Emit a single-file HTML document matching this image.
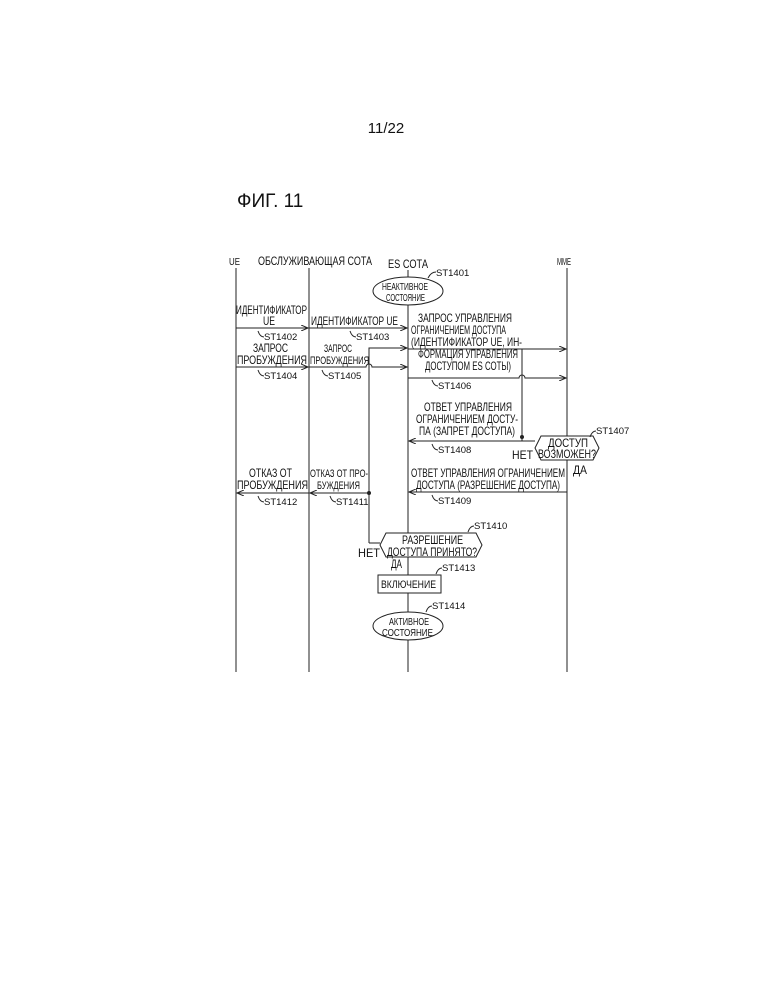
<!DOCTYPE html>
<html><head><meta charset="utf-8"><style>
html,body{margin:0;padding:0;background:#fff}
svg{display:block}
text{font-family:"Liberation Sans",sans-serif;fill:#111}
.t text{font-size:12px}
.s{font-size:9.5px;fill:#333}
</style></head><body>
<svg width="772" height="999" viewBox="0 0 772 999" xmlns="http://www.w3.org/2000/svg">
<defs><marker id="a" markerWidth="8" markerHeight="6" refX="7" refY="3" orient="auto"><path d="M0,0 L7,3 L0,6" fill="none" stroke="#222" stroke-width="1"/></marker></defs>
<text x="386" y="133" font-size="15" text-anchor="middle">11/22</text>
<text x="237" y="207" font-size="19">ФИГ. 11</text>
<g stroke="#222" stroke-width="1" fill="none">
<line x1="236" y1="268" x2="236" y2="672"/>
<line x1="309" y1="268" x2="309" y2="672"/>
<line x1="408" y1="270" x2="408" y2="672"/>
<line x1="567" y1="268" x2="567" y2="672"/>
<line x1="236" y1="328" x2="308" y2="328" marker-end="url(#a)"/>
<line x1="309" y1="328" x2="407" y2="328" marker-end="url(#a)"/>
<line x1="236" y1="367" x2="308" y2="367" marker-end="url(#a)"/>
<path d="M309,367 H366 a3,3 0 0 1 6,0 H407" marker-end="url(#a)"/>
<path d="M369,543 H380 M369,543 V348 H407" marker-end="url(#a)"/>
<path d="M408,349 H566" marker-end="url(#a)"/>
<path d="M408,378 H519 a3,3 0 0 1 6,0 H566" marker-end="url(#a)"/>
<path d="M522,349 V441 H535"/>
<line x1="522" y1="441" x2="409" y2="441" marker-end="url(#a)"/>
<line x1="567" y1="492" x2="409" y2="492" marker-end="url(#a)"/>
<line x1="369" y1="493" x2="310" y2="493" marker-end="url(#a)"/>
<line x1="309" y1="493" x2="237" y2="493" marker-end="url(#a)"/>
<ellipse cx="408" cy="291" rx="35" ry="14" fill="#fff"/>
<ellipse cx="408" cy="626" rx="35" ry="14" fill="#fff"/>
<polygon points="535,448 541,436 593,436 599,448 593,460 541,460" fill="#fff"/>
<polygon points="380,545 386,533 476,533 482,545 476,557 386,557" fill="#fff"/>
<rect x="378" y="575" width="63" height="18" fill="#fff"/>
<path d="M428,278 q3,-6 8,-6 M258,331 q2,6 6,6 M350,331 q2,6 6,6 M258,370 q2,6 6,6 M322,370 q2,6 6,6 M432,380 q2,6 6,6 M432,444 q2,6 6,6 M432,495 q2,6 6,6 M258,496 q2,6 6,6 M330,496 q2,6 6,6 M590,437 q2,-6 6,-6 M468,532 q2,-6 6,-6 M436,574 q2,-6 6,-6 M426,612 q2,-6 6,-6"/>
</g>
<circle cx="369" cy="493" r="2" fill="#222"/><circle cx="522" cy="437" r="2" fill="#222"/>
<g class="t">
<text x="229" y="265" style="font-size:10px" textLength="11" lengthAdjust="spacingAndGlyphs">UE</text>
<text x="258" y="265" textLength="114" lengthAdjust="spacingAndGlyphs">ОБСЛУЖИВАЮЩАЯ СОТА</text>
<text x="388" y="268" textLength="40" lengthAdjust="spacingAndGlyphs">ES СОТА</text>
<text x="557" y="265" style="font-size:10px" textLength="14" lengthAdjust="spacingAndGlyphs">MME</text>
<text x="382" y="290" style="font-size:10px" textLength="46" lengthAdjust="spacingAndGlyphs">НЕАКТИВНОЕ</text>
<text x="386" y="301" style="font-size:10px" textLength="39" lengthAdjust="spacingAndGlyphs">СОСТОЯНИЕ</text>
<text x="236" y="314" textLength="71" lengthAdjust="spacingAndGlyphs">ИДЕНТИФИКАТОР</text>
<text x="263" y="325" textLength="12" lengthAdjust="spacingAndGlyphs">UE</text>
<text x="311" y="325" textLength="87" lengthAdjust="spacingAndGlyphs">ИДЕНТИФИКАТОР UE</text>
<text x="418" y="322" textLength="94" lengthAdjust="spacingAndGlyphs">ЗАПРОС УПРАВЛЕНИЯ</text>
<text x="411" y="334" textLength="95" lengthAdjust="spacingAndGlyphs">ОГРАНИЧЕНИЕМ ДОСТУПА</text>
<text x="411" y="346" textLength="111" lengthAdjust="spacingAndGlyphs">(ИДЕНТИФИКАТОР UE, ИН-</text>
<text x="418" y="358" textLength="100" lengthAdjust="spacingAndGlyphs">ФОРМАЦИЯ УПРАВЛЕНИЯ</text>
<text x="425" y="370" textLength="86" lengthAdjust="spacingAndGlyphs">ДОСТУПОМ ES СОТЫ)</text>
<text x="253" y="352" textLength="35" lengthAdjust="spacingAndGlyphs">ЗАПРОС</text>
<text x="237" y="364" textLength="70" lengthAdjust="spacingAndGlyphs">ПРОБУЖДЕНИЯ</text>
<text x="324" y="352" style="font-size:11px" textLength="28" lengthAdjust="spacingAndGlyphs">ЗАПРОС</text>
<text x="310" y="364" style="font-size:11px" textLength="59" lengthAdjust="spacingAndGlyphs">ПРОБУЖДЕНИЯ</text>
<text x="424" y="411" textLength="88" lengthAdjust="spacingAndGlyphs">ОТВЕТ УПРАВЛЕНИЯ</text>
<text x="416" y="423" textLength="102" lengthAdjust="spacingAndGlyphs">ОГРАНИЧЕНИЕМ ДОСТУ-</text>
<text x="419" y="435" textLength="96" lengthAdjust="spacingAndGlyphs">ПА (ЗАПРЕТ ДОСТУПА)</text>
<text x="548" y="447" textLength="40" lengthAdjust="spacingAndGlyphs">ДОСТУП</text>
<text x="538" y="458" textLength="58" lengthAdjust="spacingAndGlyphs">ВОЗМОЖЕН?</text>
<text x="512" y="459" textLength="21" lengthAdjust="spacingAndGlyphs">НЕТ</text>
<text x="573" y="474" textLength="14" lengthAdjust="spacingAndGlyphs">ДА</text>
<text x="411" y="477" textLength="154" lengthAdjust="spacingAndGlyphs">ОТВЕТ УПРАВЛЕНИЯ ОГРАНИЧЕНИЕМ</text>
<text x="416" y="489" textLength="144" lengthAdjust="spacingAndGlyphs">ДОСТУПА (РАЗРЕШЕНИЕ ДОСТУПА)</text>
<text x="249" y="477" textLength="43" lengthAdjust="spacingAndGlyphs">ОТКАЗ ОТ</text>
<text x="237" y="489" textLength="71" lengthAdjust="spacingAndGlyphs">ПРОБУЖДЕНИЯ</text>
<text x="310" y="477" style="font-size:11px" textLength="58" lengthAdjust="spacingAndGlyphs">ОТКАЗ ОТ ПРО-</text>
<text x="317" y="489" style="font-size:11px" textLength="43" lengthAdjust="spacingAndGlyphs">БУЖДЕНИЯ</text>
<text x="402" y="544" textLength="61" lengthAdjust="spacingAndGlyphs">РАЗРЕШЕНИЕ</text>
<text x="387" y="556" textLength="90" lengthAdjust="spacingAndGlyphs">ДОСТУПА ПРИНЯТО?</text>
<text x="358" y="557" textLength="22" lengthAdjust="spacingAndGlyphs">НЕТ</text>
<text x="391" y="568" textLength="11" lengthAdjust="spacingAndGlyphs">ДА</text>
<text x="381" y="588" style="font-size:11px" textLength="55" lengthAdjust="spacingAndGlyphs">ВКЛЮЧЕНИЕ</text>
<text x="389" y="625" style="font-size:10px" textLength="40" lengthAdjust="spacingAndGlyphs">АКТИВНОЕ</text>
<text x="382" y="636" style="font-size:10px" textLength="51" lengthAdjust="spacingAndGlyphs">СОСТОЯНИЕ</text>
</g>
<g class="s">
<text x="436" y="276">ST1401</text>
<text x="264" y="340">ST1402</text>
<text x="356" y="340">ST1403</text>
<text x="264" y="379">ST1404</text>
<text x="328" y="379">ST1405</text>
<text x="438" y="389">ST1406</text>
<text x="596" y="434">ST1407</text>
<text x="438" y="453">ST1408</text>
<text x="438" y="504">ST1409</text>
<text x="264" y="505">ST1412</text>
<text x="336" y="505">ST1411</text>
<text x="474" y="529">ST1410</text>
<text x="442" y="571">ST1413</text>
<text x="432" y="609">ST1414</text>
</g>
</svg>
</body></html>
